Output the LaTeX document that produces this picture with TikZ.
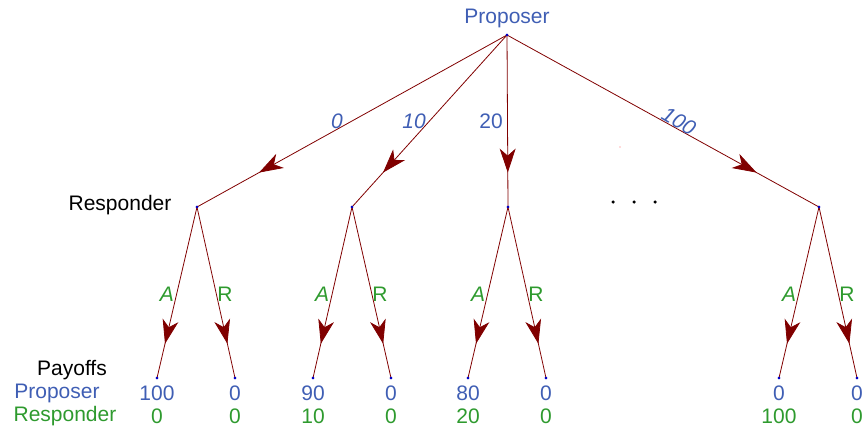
\documentclass[tikz,border=0pt]{standalone}
\usepackage{fontspec}
\setmainfont{Liberation Sans}
\usetikzlibrary{arrows.meta,decorations.markings}
\definecolor{edgered}{HTML}{800000}
\definecolor{pblue}{HTML}{3F5EB4}
\definecolor{rgreen}{HTML}{2E9A2E}
\tikzset{
  pt/.style={circle,fill=blue!80!black,inner sep=0pt,minimum size=2.6pt},
  branch/.style={draw=edgered,line width=0.8pt,postaction={decorate},
    decoration={markings,mark=at position 0.8 with {\arrow{Stealth[length=24pt,width=16pt,inset=7pt,fill=edgered,color=edgered]}}}},
  txt/.style={inner sep=0pt,font=\fontsize{21}{25}\selectfont},
  btxt/.style={txt,text=pblue},
  gtxt/.style={txt,text=rgreen},
  ktxt/.style={txt,text=black},
  dotk/.style={circle,fill=black,inner sep=0pt,minimum size=3.5pt}
}
\begin{document}
\begin{tikzpicture}[x=1pt,y=-1pt]
\useasboundingbox (0,0) rectangle (862,429);
% nodes
\node[pt] (root) at (507,35) {};
\node[pt] (r1) at (197,207) {};
\node[pt] (r2) at (352,207) {};
\node[pt] (r3) at (508,207) {};
\node[pt] (r4) at (819,207) {};
\node[pt] (l1) at (157,378) {};
\node[pt] (l2) at (235,378) {};
\node[pt] (l3) at (313,378) {};
\node[pt] (l4) at (391,378) {};
\node[pt] (l5) at (468,378) {};
\node[pt] (l6) at (546,378) {};
\node[pt] (l7) at (779,378) {};
\node[pt] (l8) at (857,378) {};
% edges
\foreach \a/\b in {root/r1,root/r2,root/r3,root/r4,r1/l1,r1/l2,r2/l3,r2/l4,r3/l5,r3/l6,r4/l7,r4/l8}
  \path[branch] (\a.center) -- (\b.center);
% re-draw dots on top
\foreach \n in {root,r1,r2,r3,r4,l1,l2,l3,l4,l5,l6,l7,l8}
  \node[pt] at (\n.center) {};
% labels
\node[btxt] (tprop) at (507,18) {Proposer};
\node[ktxt] (tresp) at (120,205) {Responder};
\node[btxt] (e0) at (337,121) {\itshape 0};
\node[btxt] (e10) at (414,121) {\itshape 10};
\node[btxt] (e20) at (491,121) {20};
\node[btxt,rotate=-30] (e100) at (679,121) {\itshape 100};
% ellipsis dots
\node[dotk] (d1) at (613,202) {};
\node[dotk] (d2) at (634,202) {};
\node[dotk] (d3) at (655,202) {};
\node[circle,fill=red!60,inner sep=0pt,minimum size=1.2pt] (spk) at (620,147) {};
% A / R labels
\foreach \r/\x in {1/197,2/352,3/508,4/819}{
  \node[gtxt] (a\r) at (\x-30,294) {\itshape A};
  \node[gtxt] (rr\r) at (\x+28,294) {R};
}
% payoffs
\node[ktxt] (pay) at (72,370) {Payoffs};
\node[btxt] (pp) at (57,393) {Proposer};
\node[gtxt] (pr) at (65,416) {Responder};
\foreach \l/\p/\q in {l1/100/0,l2/0/0,l3/90/10,l4/0/0,l5/80/20,l6/0/0,l7/0/100,l8/0/0}{
  \node[btxt] at (\l.center |- 0,393) {\p};
  \node[gtxt] at (\l.center |- 0,416) {\q};
}
\end{tikzpicture}
\end{document}
